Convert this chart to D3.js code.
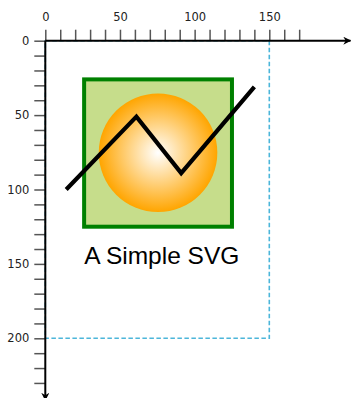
<!DOCTYPE html>
<html>
<head>
<meta charset="utf-8">
<script src="https://cdn.jsdelivr.net/npm/d3@7"></script>
<style>
  body { margin: 0; background: #fff; }
  .tick line { stroke: #555; stroke-width: 1.5px; }
  .tick text { font-family: "DejaVu Sans", sans-serif; font-size: 11.5px; fill: #222; }
</style>
</head>
<body>
<div id="chart"></div>
<script>
// values in chart units
var xTickValues = [0, 10, 20, 30, 40, 50, 60, 70, 80, 90, 100, 110, 120, 130, 140, 150, 160, 170];
var yTickValues = [0, 10, 20, 30, 40, 50, 60, 70, 80, 90, 100, 110, 120, 130, 140, 150, 160, 170, 180, 190, 200, 210, 220, 230];
var xTickLabels = [0, 50, 100, 150];
var yTickLabels = [0, 50, 100, 150, 200];
var guideBox = [0, 0, 150, 200];
var squareBox = [26, 26, 125, 125];
var sunCircle = [75.5, 75.3, 39.7];
var zigzag = [[14, 100], [61, 51], [91, 89], [140, 31]];
var titlePos = [26, 150];
var titleText = "A Simple SVG";

function drawSimpleSvg(placement, w, h) {
    var width = w, height = h;

    var svg = d3.select(placement).append("svg")
        .attr("width", width).attr("height", height)
        .attr("viewBox", [0, 0, width, height]);

    var x = d3.scaleLinear().domain([0, 150]).range([45.3, 269.3]);
    var y = d3.scaleLinear().domain([0, 200]).range([40.7, 338.3]);

    var defs = svg.append("defs");
    var grad = defs.append("radialGradient").attr("id", "sun");
    grad.append("stop").attr("offset", "0%").attr("stop-color", "#ffffff");
    grad.append("stop").attr("offset", "100%").attr("stop-color", "#ffa500");

    defs.append("marker")
        .attr("id", "arrow")
        .attr("viewBox", "0 0 10 10")
        .attr("refX", 9).attr("refY", 5)
        .attr("markerWidth", 4).attr("markerHeight", 4)
        .attr("orient", "auto")
        .append("path")
        .attr("d", "M0,0 L10,5 L0,10 L3,5 Z")
        .attr("fill", "#000");

    // dashed guide box
    svg.append("rect")
        .attr("x", x(guideBox[0])).attr("y", y(guideBox[1]))
        .attr("width", x(guideBox[2]) - x(guideBox[0]))
        .attr("height", y(guideBox[3]) - y(guideBox[1]))
        .attr("fill", "none")
        .attr("stroke", "#4cb6da")
        .attr("stroke-width", 1.6)
        .attr("stroke-dasharray", "4.5,2.5");

    // axes
    svg.append("g")
        .attr("class", "x-axis")
        .attr("transform", "translate(0," + y(0) + ")")
        .call(d3.axisTop(x).tickValues(xTickValues).tickSize(11)
            .tickFormat(function(d) { return xTickLabels.indexOf(d) >= 0 ? d : ""; }))
        .call(g => g.select(".domain").remove())
        .call(g => g.selectAll(".tick text").attr("y", -20));

    svg.append("g")
        .attr("class", "y-axis")
        .attr("transform", "translate(" + x(0) + ",0)")
        .call(d3.axisLeft(y).tickValues(yTickValues).tickSize(11)
            .tickFormat(function(d) { return yTickLabels.indexOf(d) >= 0 ? d : ""; }))
        .call(g => g.select(".domain").remove())
        .call(g => g.selectAll(".tick text").attr("x", -16));

    svg.append("line")
        .attr("x1", x(0)).attr("y1", y(0))
        .attr("x2", width - 1.5).attr("y2", y(0))
        .attr("stroke", "#000").attr("stroke-width", 2)
        .attr("marker-end", "url(#arrow)");

    svg.append("line")
        .attr("x1", x(0)).attr("y1", y(0))
        .attr("x2", x(0)).attr("y2", height + 2)
        .attr("stroke", "#000").attr("stroke-width", 2)
        .attr("marker-end", "url(#arrow)");

    // square
    svg.append("rect")
        .attr("x", x(squareBox[0])).attr("y", y(squareBox[1]))
        .attr("width", x(squareBox[2]) - x(squareBox[0]))
        .attr("height", y(squareBox[3]) - y(squareBox[1]))
        .attr("fill", "#c6dd8b")
        .attr("stroke", "#008000")
        .attr("stroke-width", 4);

    svg.append("circle")
        .attr("cx", x(sunCircle[0])).attr("cy", y(sunCircle[1]))
        .attr("r", x(sunCircle[2]) - x(0))
        .attr("fill", "url(#sun)");

    var line = d3.line()
        .x(d => x(d[0]))
        .y(d => y(d[1]));

    svg.append("path")
        .attr("d", line(zigzag))
        .attr("fill", "none")
        .attr("stroke", "#000")
        .attr("stroke-width", 4.2);

    svg.append("text")
        .attr("x", x(titlePos[0])).attr("y", y(titlePos[1]))
        .attr("font-family", "'Liberation Sans', Arial, sans-serif")
        .attr("font-size", "24.5px")
        .attr("fill", "#000")
        .text(titleText);
}

drawSimpleSvg("#chart", 352, 398);
</script>
</body>
</html>
